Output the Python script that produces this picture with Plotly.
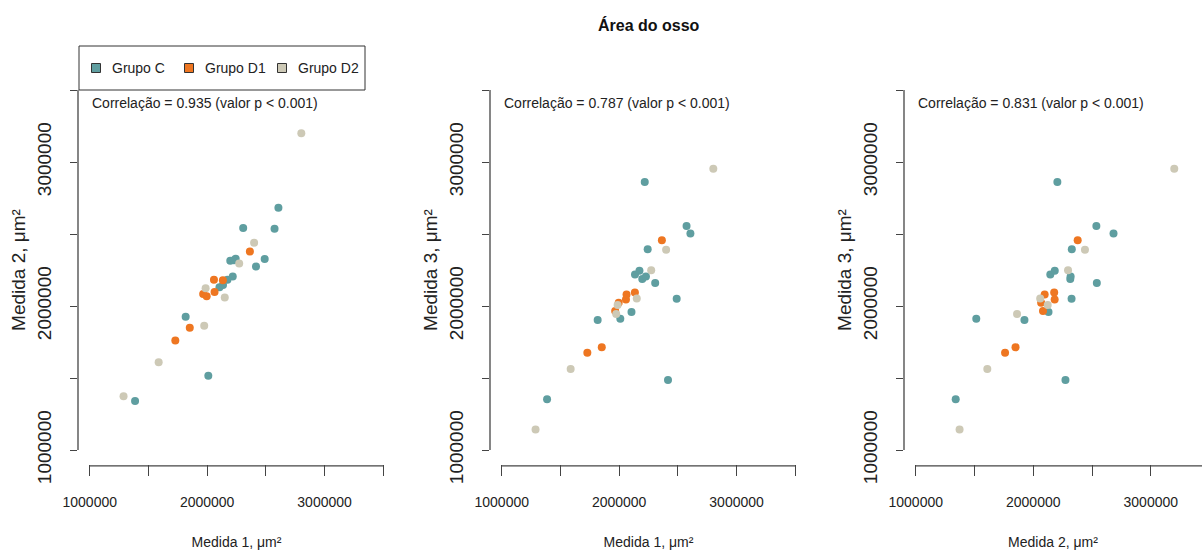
import plotly.graph_objects as go

# ---------------- data ----------------
grupos = ["Grupo C", "Grupo D1", "Grupo D2"]
cores = ["#5F9EA0", "#EE7621", "#CDC9B6"]

# Grupo C
c_med1 = [2607000, 2574000, 2307000, 2490000, 2416000, 1817000, 2010000, 1386000,
          2105000, 2135000, 2218000, 2243000, 2173000, 2197000, 2228000]
c_med2 = [2683000, 2537000, 2541000, 2326000, 2274000, 1925000, 1515000, 1340000,
          2130000, 2145000, 2205000, 2328000, 2183000, 2315000, 2318000]
c_med3 = [2504000, 2556000, 2160000, 2051000, 1486000, 1903000, 1912000, 1352000,
          1958000, 2219000, 2861000, 2394000, 2245000, 2188000, 2204000]

# Grupo D1
d1_med1 = [2364000, 2134000, 2058000, 2063000, 1996000, 1966000, 1852000, 1729000]
d1_med2 = [2378000, 2178000, 2182000, 2097000, 2067000, 2083000, 1849000, 1760000]
d1_med3 = [2456000, 2094000, 2046000, 2079000, 2023000, 1965000, 1713000, 1676000]

# Grupo D2
d2_med1 = [2802000, 2400000, 2273000, 2150000, 1987000, 1975000, 1587000, 1288000]
d2_med2 = [3200000, 2440000, 2296000, 2059000, 2123000, 1862000, 1609000, 1373000]
d2_med3 = [2953000, 2391000, 2248000, 2052000, 2007000, 1944000, 1562000, 1142000]

correlacoes = ["0.935", "0.787", "0.831"]
titulo = "Área do osso"

tick_vals = [1000000, 2000000, 3000000]
tick_text = ["1000000", "2000000", "3000000"]
tick_step = 500000
axis_span = [1000000, 3500000]

dados = {
    "Medida 1": [c_med1, d1_med1, d2_med1],
    "Medida 2": [c_med2, d1_med2, d2_med2],
    "Medida 3": [c_med3, d1_med3, d2_med3],
}
paineis = [("Medida 1", "Medida 2"), ("Medida 1", "Medida 3"), ("Medida 2", "Medida 3")]

# ---------------- layout geometry ----------------
W, H = 1202, 550
x_domains = [(78 / W, 395 / W), (490 / W, 807 / W), (904 / W, 1.0)]
x_ranges = [[900000, 3600000], [900000, 3600000], [900000, 3436000]]
y_domain = ((H - 464.4) / H, (H - 75.6) / H)
y_range = [900000, 3600000]

FONT = "Liberation Sans, Arial, sans-serif"
TXT = "#222222"
AX = "#444444"

fig = go.Figure()

for i, (xn, yn) in enumerate(paineis):
    sx = "" if i == 0 else str(i + 1)
    for g in range(3):
        fig.add_trace(go.Scatter(
            x=dados[xn][g], y=dados[yn][g], mode="markers",
            marker=dict(color=cores[g], size=8, line=dict(width=0)),
            xaxis="x" + sx, yaxis="y" + sx, showlegend=False, name=grupos[g],
            hoverinfo="x+y+name",
        ))

    fig.layout["xaxis" + sx] = dict(
        domain=list(x_domains[i]), range=x_ranges[i], anchor="y" + sx, automargin=False,
        tickvals=tick_vals, ticktext=tick_text, ticks="outside", ticklen=11,
        tickwidth=1, tickcolor=AX, showline=False, showgrid=False, zeroline=False,
        minor=dict(ticks="outside", ticklen=11, tickwidth=1, tickcolor=AX,
                   tick0=axis_span[0], dtick=tick_step, showgrid=False),
        tickfont=dict(size=14, color=TXT, family=FONT), ticklabelstandoff=14,
        title=dict(text=xn + ", μm²", font=dict(size=14, color=TXT, family=FONT),
                   standoff=34),
    )
    fig.layout["yaxis" + sx] = dict(
        domain=list(y_domain), range=y_range, anchor="x" + sx, automargin=False,
        tickvals=tick_vals, ticktext=tick_text, ticks="outside", ticklen=7,
        tickwidth=1, tickcolor=AX, showline=False, showgrid=False, zeroline=False,
        minor=dict(ticks="outside", ticklen=7, tickwidth=1, tickcolor=AX,
                   tick0=axis_span[0], dtick=tick_step, showgrid=False),
        tickangle=-90, tickfont=dict(size=19, color=TXT, family=FONT), ticklabelstandoff=11,
        title=dict(text=yn + ", μm²", font=dict(size=19, color=TXT, family=FONT),
                   standoff=3),
    )

    # axis lines spanning first to last tick (R style)
    xr = "x" + sx
    yr = "y" + sx
    fig.add_shape(type="line", xref=xr, yref=yr + " domain",
                  x0=axis_span[0], x1=min(axis_span[1], x_ranges[i][1]), y0=-0.004, y1=-0.004,
                  line=dict(color=AX, width=1.3))
    fig.add_shape(type="line", xref=xr + " domain", yref=yr,
                  x0=0, x1=0, y0=axis_span[0], y1=axis_span[1],
                  line=dict(color=AX, width=1.3))

    fig.add_annotation(
        xref=xr, yref=yr, x=1000000, y=3410000, xanchor="left", yanchor="middle",
        text="Correlação = " + correlacoes[i] + " (valor p < 0.001)", showarrow=False,
        font=dict(size=14, color=TXT, family=FONT),
    )

# ---------------- legend (R-style boxed, horizontal) ----------------
leg_left, leg_right, leg_top, leg_bottom = 79, 365, 46, 90
leg_key_x = [96, 189, 282]
leg_y = 68
key_half = 4.5
fig.add_shape(type="rect", xref="paper", yref="paper",
              x0=leg_left / W, x1=leg_right / W, y0=1 - leg_bottom / H, y1=1 - leg_top / H,
              line=dict(color="#333333", width=1), fillcolor="white", layer="above")
for g in range(3):
    kx = leg_key_x[g]
    fig.add_shape(type="rect", xref="paper", yref="paper",
                  x0=(kx - key_half) / W, x1=(kx + key_half) / W,
                  y0=1 - (leg_y + key_half) / H, y1=1 - (leg_y - key_half) / H,
                  line=dict(color="#333333", width=1), fillcolor=cores[g], layer="above")
    fig.add_annotation(xref="paper", yref="paper", x=(kx + 14) / W, y=1 - leg_y / H,
                       xanchor="left", yanchor="middle", text=grupos[g], showarrow=False,
                       font=dict(size=14, color=TXT, family=FONT))

fig.add_annotation(
    xref="paper", yref="paper", x=649 / W, y=1 - 25 / H, xanchor="center", yanchor="middle",
    text="<b>" + titulo + "</b>", showarrow=False, font=dict(size=16, color="#111111", family=FONT),
)

fig.update_layout(
    width=W, height=H, margin=dict(l=0, r=0, t=0, b=0, autoexpand=False),
    paper_bgcolor="white", plot_bgcolor="white",
    font=dict(family=FONT, color=TXT), showlegend=False,
)

fig.write_html("out.html")
